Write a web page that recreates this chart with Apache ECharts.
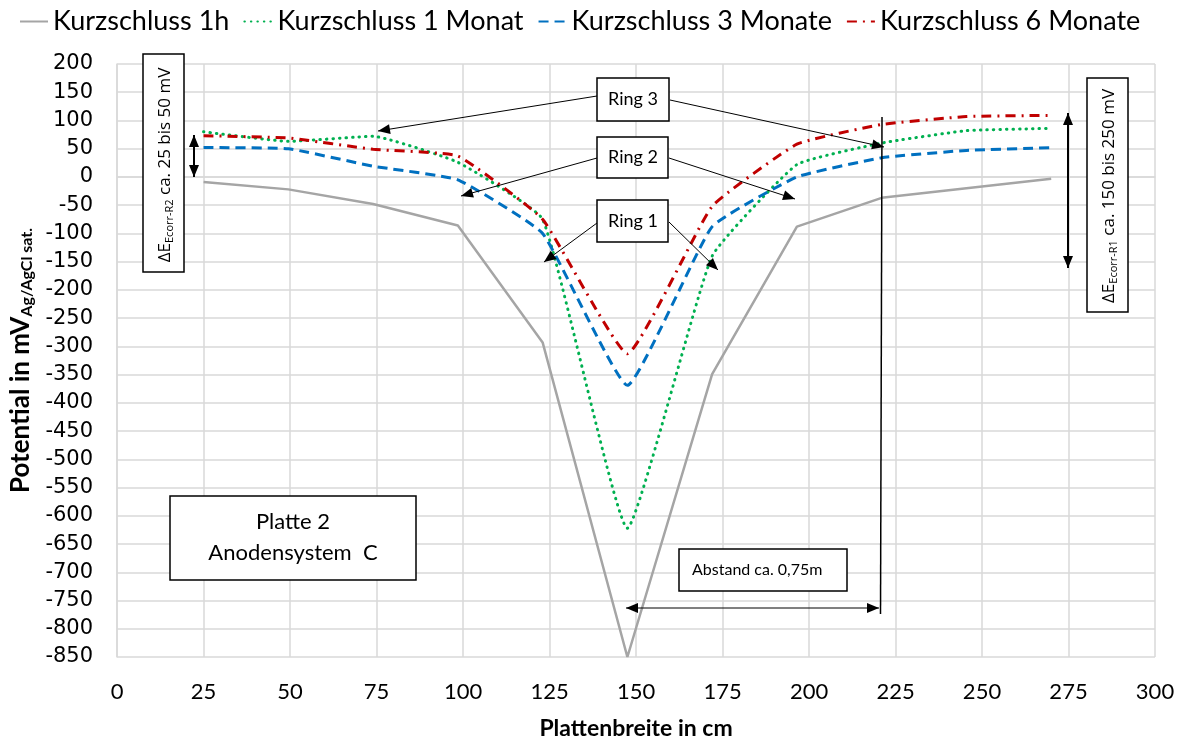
<!DOCTYPE html>
<html>
<head>
<meta charset="utf-8">
<script src="https://cdn.jsdelivr.net/npm/echarts@6/dist/echarts.min.js"></script>
<style>
  html, body { margin: 0; padding: 0; background: #fff; }
  #main { width: 1186px; height: 745px; }
</style>
</head>
<body>
<div id="main"></div>
<script>
// Messpunkte (Plattenbreite in cm)
var positions = [25, 49.5, 74, 98.5, 123, 147.5, 172, 196.5, 221, 245.5, 270];
var kurz1h     = [-9, -22, -48, -86, -293, -850, -349, -88, -37, -20, -3];
var kurz1Monat = [80, 63, 72, 26, -75, -622, -140, 22, 60, 82, 86];
var kurz3Mon   = [52, 50, 19, -5, -100, -369, -88, 0, 34, 47, 52];
var kurz6Mon   = [73, 69, 49, 37, -75, -313, -52, 58, 93, 107, 109];
var seriesNames = ['Kurzschluss 1h', 'Kurzschluss 1 Monat', 'Kurzschluss 3 Monate', 'Kurzschluss 6 Monate'];

function pairs(ys) {
    return positions.map(function (x, i) { return [x, ys[i]]; });
}

// Pfeil mit Spitze(n)
function arrow(x1, y1, x2, y2, both, w) {
    var out = [{
        type: 'line', z: 90,
        shape: { x1: x1, y1: y1, x2: x2, y2: y2 },
        style: { stroke: '#000', lineWidth: w || 1 }
    }];
    function head(tx, ty, fx, fy) {
        var a = Math.atan2(ty - fy, tx - fx), L = 12, H = 5;
        var bx = tx - L * Math.cos(a), by = ty - L * Math.sin(a);
        return {
            type: 'polygon', z: 91,
            shape: { points: [[tx, ty],
                [bx + H * Math.sin(a), by - H * Math.cos(a)],
                [bx - H * Math.sin(a), by + H * Math.cos(a)]] },
            style: { fill: '#000' }
        };
    }
    out.push(head(x2, y2, x1, y1));
    if (both) out.push(head(x1, y1, x2, y2));
    return out;
}

function box(x, y, w, h) {
    return { type: 'rect', z: 95, shape: { x: x, y: y, width: w, height: h },
        style: { fill: '#fff', stroke: '#000', lineWidth: 1.5 } };
}

function label(x, y, text, size, align) {
    return { type: 'text', z: 96, x: x, y: y,
        style: { text: text, fill: '#000', font: size + 'px Lato', align: align || 'center', verticalAlign: 'middle' } };
}

var subRich = {
    a: { fontFamily: 'Open Sans', fontSize: 17, color: '#000' },
    s: { fontFamily: 'Open Sans', fontSize: 11, color: '#000', padding: [9, 0, 0, 0] }
};

var graphics = [].concat(
    arrow(597, 96, 378, 131), arrow(670, 100, 884, 147),
    arrow(597, 158, 461, 196), arrow(669, 158, 795, 199),
    arrow(597, 223, 544, 262), arrow(669, 222, 718, 270),
    arrow(194, 135, 194, 177, true, 2),
    arrow(1068, 113, 1068, 268, true, 2),
    arrow(626, 608, 879, 608, true, 1),
    [{ type: 'line', z: 90, shape: { x1: 882, y1: 117, x2: 880.5, y2: 614 }, style: { stroke: '#000', lineWidth: 1.5 } }],
    [
        box(597, 78, 72, 43), label(633, 99, 'Ring 3', 18),
        box(597, 137, 71, 41), label(633, 157, 'Ring 2', 18),
        box(597, 200, 71, 42), label(633, 221, 'Ring 1', 18),
        box(679, 549, 168, 42), label(692, 570, 'Abstand ca. 0,75m', 16, 'left'),
        box(170, 496, 246, 84), label(293, 522, 'Platte 2', 22), label(293, 553, 'Anodensystem  C', 22),
        box(143, 54, 41, 218),
        { type: 'text', z: 96, x: 165, y: 165, rotation: Math.PI / 2,
          style: { text: '{a|ΔE}{s|Ecorr-R2}{a| ca. 25 bis 50 mV}', rich: subRich, align: 'center', verticalAlign: 'middle' } },
        box(1087, 78, 41, 234),
        { type: 'text', z: 96, x: 1109, y: 196, rotation: Math.PI / 2,
          style: { text: '{a|ΔE}{s|Ecorr-R1}{a| ca. 150 bis 250 mV}', rich: subRich, align: 'center', verticalAlign: 'middle' } }
    ]
);

var myChart = echarts.init(document.getElementById('main'));
var option = {
    animation: false,
    legend: {
        top: 3,
        left: 14,
        itemWidth: 28,
        itemHeight: 14,
        itemGap: 14,
        itemStyle: { opacity: 0 },
        textStyle: { fontFamily: 'Lato', fontSize: 27, color: '#000' },
        data: seriesNames
    },
    grid: { left: 114, right: 31, top: 64, bottom: 85 },
    xAxis: {
        type: 'value', min: 0, max: 300, interval: 25,
        name: 'Plattenbreite in cm', nameLocation: 'middle', nameGap: 60,
        nameTextStyle: { fontFamily: 'Lato', fontSize: 23, fontWeight: 'bold', color: '#000' },
        axisLine: { lineStyle: { color: '#D9D9D9', width: 1.5 } },
        axisTick: { show: false },
        axisLabel: { fontFamily: 'Lato', fontSize: 22, color: '#000', margin: 24 },
        splitLine: { lineStyle: { color: '#D9D9D9', width: 1.5 } }
    },
    yAxis: {
        type: 'value', min: -850, max: 200, interval: 50,
        name: '{b|Potential in mV}{s|Ag/AgCl sat.}', nameLocation: 'middle', nameGap: 70, nameRotate: 90,
        nameTextStyle: {
            rich: {
                b: { fontFamily: 'Lato', fontSize: 26, fontWeight: 'bold', color: '#000' },
                s: { fontFamily: 'Lato', fontSize: 16, fontWeight: 'bold', color: '#000', padding: [11, 0, 0, 0] }
            }
        },
        axisLine: { show: true, lineStyle: { color: '#D9D9D9', width: 1.5 } },
        axisTick: { show: false },
        axisLabel: { fontFamily: 'DejaVu Sans', fontSize: 21, color: '#000', margin: 24 },
        splitLine: { lineStyle: { color: '#D9D9D9', width: 1.5 } }
    },
    series: [
        {
            name: seriesNames[0], type: 'line', symbol: 'none', data: pairs(kurz1h),
            itemStyle: { color: '#A5A5A5' },
            lineStyle: { color: '#A5A5A5', width: 2.5 }
        },
        {
            name: seriesNames[1], type: 'line', symbol: 'none', smooth: 0.12, data: pairs(kurz1Monat),
            itemStyle: { color: '#00B050' },
            lineStyle: { color: '#00B050', width: 3, type: [0.5, 6], cap: 'round' }
        },
        {
            name: seriesNames[2], type: 'line', symbol: 'none', smooth: 0.12, data: pairs(kurz3Mon),
            itemStyle: { color: '#0070C0' },
            lineStyle: { color: '#0070C0', width: 3, type: [10, 6] }
        },
        {
            name: seriesNames[3], type: 'line', symbol: 'none', smooth: 0.12, data: pairs(kurz6Mon),
            itemStyle: { color: '#C00000' },
            lineStyle: { color: '#C00000', width: 3, type: [10, 6, 2, 6] }
        }
    ],
    graphic: graphics
};
myChart.setOption(option);
</script>
</body>
</html>
